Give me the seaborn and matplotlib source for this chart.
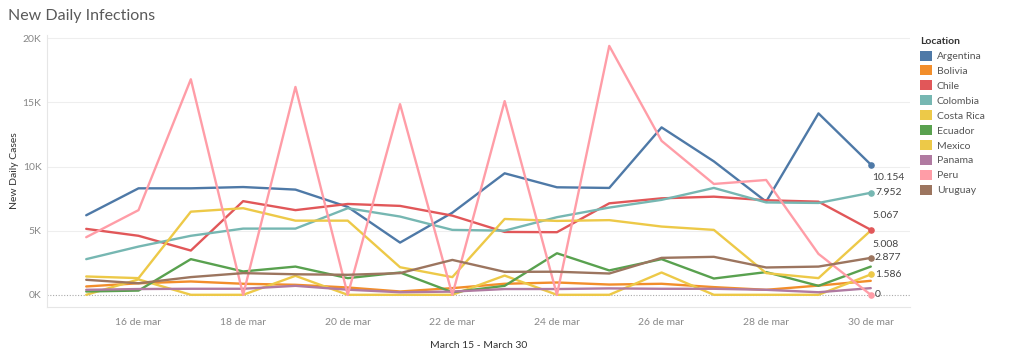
import pandas as pd
import seaborn as sns
import matplotlib.pyplot as plt
from matplotlib.patches import Patch

# Dates, 15 to 30 March
dates = pd.date_range('2021-03-15', '2021-03-30', freq='D')

# New daily cases (thousands)
argentina = [6.2, 8.3, 8.3, 8.4, 8.2, 6.85, 4.07, 6.4, 9.47, 8.38, 8.33, 13.05, 10.4, 7.26, 14.14, 10.154]
bolivia = [0.65, 0.9, 1.04, 0.86, 0.78, 0.57, 0.26, 0.52, 0.86, 0.96, 0.8, 0.86, 0.6, 0.39, 0.72, 1.09]
chile = [5.14, 4.6, 3.45, 7.3, 6.6, 7.08, 6.93, 6.17, 4.9, 4.88, 7.13, 7.52, 7.65, 7.37, 7.26, 5.067]
colombia = [2.78, 3.76, 4.6, 5.16, 5.16, 6.75, 6.1, 5.06, 5.0, 6.05, 6.8, 7.4, 8.33, 7.2, 7.16, 7.952]
costa_rica = [0.0, 1.2, 0.0, 0.0, 1.48, 0.0, 0.0, 0.0, 1.5, 0.0, 0.0, 1.74, 0.0, 0.0, 0.0, 1.586]
ecuador = [0.26, 0.33, 2.78, 1.82, 2.2, 1.3, 1.74, 0.2, 0.7, 3.24, 1.9, 2.78, 1.27, 1.77, 0.7, 2.2]
mexico = [1.43, 1.3, 6.48, 6.75, 5.78, 5.78, 2.15, 1.38, 5.91, 5.76, 5.82, 5.32, 5.06, 1.69, 1.3, 5.008]
panama = [0.39, 0.45, 0.47, 0.47, 0.7, 0.4, 0.2, 0.25, 0.45, 0.45, 0.5, 0.47, 0.47, 0.39, 0.2, 0.52]
peru = [4.49, 6.6, 16.8, 0.0, 16.2, 0.0, 14.86, 0.0, 15.1, 0.0, 19.4, 12.0, 8.64, 8.95, 3.19, 0.0]
uruguay = [1.17, 0.9, 1.38, 1.69, 1.6, 1.56, 1.69, 2.72, 1.79, 1.8, 1.66, 2.88, 2.96, 2.13, 2.2, 2.877]

locations = ['Argentina', 'Bolivia', 'Chile', 'Colombia', 'Costa Rica',
             'Ecuador', 'Mexico', 'Panama', 'Peru', 'Uruguay']
series = [argentina, bolivia, chile, colombia, costa_rica,
          ecuador, mexico, panama, peru, uruguay]
colors = ['#4E79A7', '#F28E2B', '#E15759', '#76B7B2', '#EDC948',
          '#59A14F', '#EDC948', '#B07AA1', '#FF9DA7', '#9C755F']

x_tick_labels = ['16 de mar', '18 de mar', '20 de mar', '22 de mar',
                 '24 de mar', '26 de mar', '28 de mar', '30 de mar']
y_ticks = [0, 5, 10, 15, 20]
y_tick_labels = ['0K', '5K', '10K', '15K', '20K']

# end-of-line labels: location -> (label text, offset in points, draw marker)
end_labels = {
    'Argentina': ('10.154', (1, -9), True),
    'Colombia': ('7.952', (3, 0), True),
    'Mexico': ('5.008', (1, -10), False),
    'Chile': ('5.067', (1, 10), True),
    'Uruguay': ('2.877', (3, 0), True),
    'Costa Rica': ('1.586', (3, 0), True),
    'Peru': ('0', (3, 0), True),
}

df = pd.DataFrame({
    'date': list(dates) * len(locations),
    'location': [loc for loc in locations for _ in dates],
    'cases': [v for s in series for v in s],
})

sns.set_theme(style='white')
plt.rcParams['font.family'] = ['Lato', 'DejaVu Sans']

fig = plt.figure(figsize=(10.24, 3.51), dpi=100)
ax = fig.add_axes([47 / 1024, 1 - 307 / 351, 863 / 1024, 272 / 351])

palette = dict(zip(locations, colors))
sns.lineplot(data=df, x='date', y='cases', hue='location', hue_order=locations,
             palette=palette, linewidth=1.7, ax=ax, legend=False)

# markers and value labels at the last day
for loc, (txt, off, mark) in end_labels.items():
    last = df[(df['location'] == loc) & (df['date'] == dates[-1])]
    if mark:
        ax.scatter(last['date'], last['cases'], s=14, color=palette[loc], zorder=5)
    ax.annotate(txt, (last['date'].iloc[0], last['cases'].iloc[0]), xytext=off,
                textcoords='offset points', ha='left', va='center',
                fontsize=7.5, color='#444444')

ax.set_xlim(dates[0] - pd.Timedelta(hours=18), dates[-1] + pd.Timedelta(hours=18))
ax.set_ylim(-0.95, 20.25)
ax.set_yticks(y_ticks)
ax.set_yticklabels(y_tick_labels)
ax.set_xticks(dates[1::2])
ax.set_xticklabels(x_tick_labels)
ax.tick_params(axis='both', labelsize=7.5, colors='#888888', length=0)
ax.tick_params(axis='x', pad=8)
ax.tick_params(axis='y', pad=4)

for y in y_ticks[1:]:
    ax.axhline(y, color='#eeeeee', linewidth=0.8, zorder=0)
ax.axhline(0, color='#aaaaaa', linewidth=0.8, linestyle=(0, (1, 1.5)), zorder=0)

for side in ['top', 'right']:
    ax.spines[side].set_visible(False)
for side in ['left', 'bottom']:
    ax.spines[side].set_color('#e6e6e6')
    ax.spines[side].set_linewidth(0.8)

ax.set_ylabel('New Daily Cases', fontsize=7.5, color='#333333')
ax.yaxis.set_label_coords(-(47 - 19) / 863, 0.5)
ax.set_xlabel('March 15 - March 30', fontsize=7.5, color='#333333', labelpad=10)

fig.text(8 / 1024, 1 - 16 / 351, 'New Daily Infections', fontsize=11.5,
         color='#5a5a5a', va='center', ha='left')

handles = [Patch(facecolor=c, edgecolor='none') for c in colors]
leg = fig.legend(handles, locations, title='Location', loc='upper left',
                 bbox_to_anchor=(916 / 1024, 1 - 33 / 351), frameon=False,
                 fontsize=7.5, title_fontsize=7.5, handlelength=1.1, handleheight=1.1,
                 handletextpad=0.5, labelspacing=0.42, borderaxespad=0)
leg.get_title().set_fontweight('bold')
leg.get_title().set_color('#333333')
leg._legend_box.align = 'left'
for t in leg.get_texts():
    t.set_color('#555555')

fig.savefig('out.png', dpi=100)
